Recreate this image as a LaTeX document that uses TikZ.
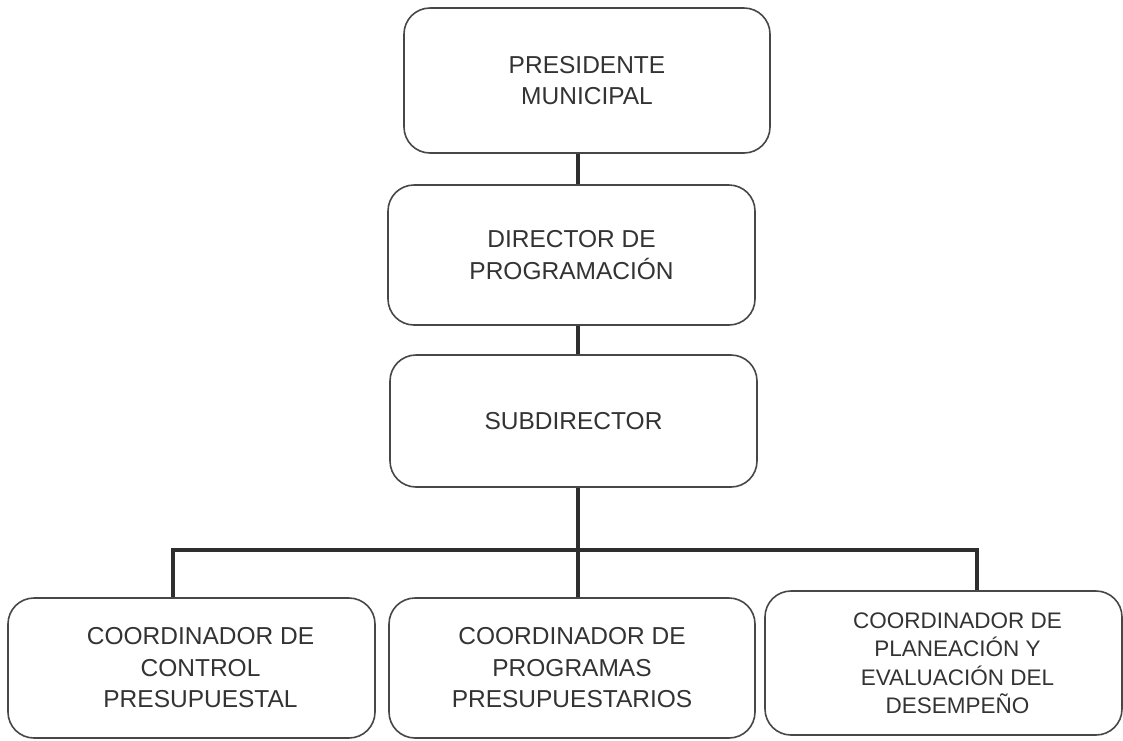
\documentclass[tikz,border=0pt]{standalone}
\usepackage{fontspec}
\setmainfont{Liberation Sans}
\begin{document}
\begin{tikzpicture}[x=1pt,y=-1pt,
  orgbox/.style={draw=black!72, line width=1.6pt, rounded corners=26pt,
    align=center, inner sep=0pt, text=black!80,
    font=\fontsize{24.5}{31.5}\selectfont},
  link/.style={draw=black!82, line width=4.5pt}]
\useasboundingbox (0,0) rectangle (1123,740);

% hierarchy boxes
\node[orgbox, minimum width=366pt, minimum height=145pt] (pres) at (587,80.5)
  {PRESIDENTE\\MUNICIPAL};
\node[orgbox, minimum width=367pt, minimum height=140pt] (dir) at (571.5,255)
  {DIRECTOR DE\\PROGRAMACIÓN};
\node[orgbox, minimum width=367pt, minimum height=132pt] (sub) at (573.5,421)
  {SUBDIRECTOR};
\node[orgbox, minimum width=367pt, minimum height=140pt] (c1) at (191.5,668)
  {\hspace*{18pt}COORDINADOR DE\\\hspace*{18pt}CONTROL\\\hspace*{18pt}PRESUPUESTAL};
\node[orgbox, minimum width=366pt, minimum height=140pt] (c2) at (572,668)
  {COORDINADOR DE\\PROGRAMAS\\PRESUPUESTARIOS};
\node[orgbox, minimum width=357pt, minimum height=144pt,
  font=\fontsize{22.5}{28.5}\selectfont] (c3) at (943.5,663)
  {\hspace*{28pt}COORDINADOR DE\\\hspace*{28pt}PLANEACIÓN Y\\\hspace*{28pt}EVALUACIÓN DEL\\\hspace*{28pt}DESEMPEÑO};

% reporting lines
\coordinate (spine) at (578,0);
\coordinate (d1) at (173,550);
\coordinate (d3) at (977,550);
\draw[link] (pres.south -| spine) -- (dir.north -| spine);
\draw[link] (dir.south -| spine) -- (sub.north -| spine);
\draw[link] (sub.south -| spine) -- (c2.north -| spine);
\draw[link] (c1.north -| d1) -- (d1) -- (d3) -- (c3.north -| d3);
\end{tikzpicture}
\end{document}
